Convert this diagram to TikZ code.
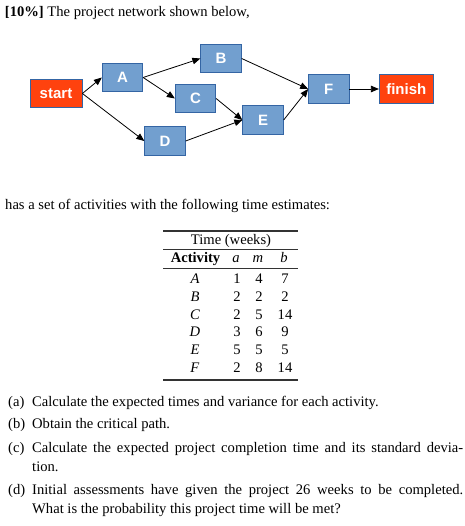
\documentclass[tikz,border=0pt]{standalone}
\usepackage{fontspec}
\setmainfont{Liberation Serif}
\newfontfamily\diafont{Liberation Sans}
\usetikzlibrary{arrows.meta}
\definecolor{boxblue}{HTML}{729FCF}
\definecolor{boxred}{HTML}{FF420E}
\definecolor{boxline}{HTML}{3465A4}
\begin{document}
\begin{tikzpicture}[x=1pt,y=-1pt,
  act/.style={draw=boxline, line width=0.8pt, fill=boxblue, minimum width=40.5pt,
    minimum height=28.5pt, inner sep=0pt, text=white,
    font=\diafont\bfseries\fontsize{15}{16}\selectfont},
  term/.style={act, fill=boxred},
  link/.style={-{Triangle[length=8pt,width=6.5pt]}, line width=0.8pt},
  txt/.style={anchor=base west, inner sep=0pt, font=\fontsize{14.6}{18}\selectfont},
  cell/.style={anchor=base, inner sep=0pt, font=\fontsize{14.6}{18}\selectfont},
  heavyrule/.style={line width=1.2pt, draw=black!80},
  lightrule/.style={line width=0.8pt, draw=black!80}]
\useasboundingbox (0,0) rectangle (464,526);

% heading text
\node[txt] (title) at (4.7,16.7) {\textbf{[10\%]} The project network shown below,};

% network
\node[term, minimum width=52pt] (start) at (56,93.5) {start};
\node[act] (A) at (122.5,77.5) {A};
\node[act] (B) at (221,58.5) {B};
\node[act] (C) at (195.5,98.5) {C};
\node[act] (D) at (165,141) {D};
\node[act] (E) at (263,120) {E};
\node[act] (F) at (328.8,89) {F};
\node[term, minimum width=54pt] (finish) at (406.3,89) {finish};

\draw[link] (start.east) -- (A.west);
\draw[link] (start.east) -- (D.west);
\draw[link] (A.east) -- (B.west);
\draw[link] (A.east) -- (C.west);
\draw[link] (B.east) -- (F.west);
\draw[link] (C.east) -- (E.west);
\draw[link] (D.east) -- (E.west);
\draw[link] (E.east) -- (F.west);
\draw[link] (F.east) -- (finish.west);

\node[txt] (intro) at (5,210) {has a set of activities with the following time estimates:};

% table
\draw[heavyrule] (163,231) -- (298,231);
\node[cell] (th) at (231,244.3) {Time (weeks)};
\draw[lightrule] (163,249.3) -- (298,249.3);
\node[cell] (hact) at (195.5,262.5) {\textbf{Activity}};
\node[cell] (ha) at (236,262.5) {\textit{a}};
\node[cell] (hm) at (258,262.5) {\textit{m}};
\node[cell] (hb) at (284,262.5) {\textit{b}};
\draw[lightrule] (163,268.7) -- (298,268.7);

\node[cell] (rA) at (195,283.5) {\textit{A}};
\node[cell] at (237,283.5) {1};
\node[cell] at (259,283.5) {4};
\node[cell] at (285,283.5) {7};

\node[cell] (rB) at (195,301.25) {\textit{B}};
\node[cell] at (237,301.25) {2};
\node[cell] at (259,301.25) {2};
\node[cell] at (285,301.25) {2};

\node[cell] (rC) at (195,319) {\textit{C}};
\node[cell] at (237,319) {2};
\node[cell] at (259,319) {5};
\node[cell] at (285,319) {14};

\node[cell] (rD) at (195,336.75) {\textit{D}};
\node[cell] at (237,336.75) {3};
\node[cell] at (259,336.75) {6};
\node[cell] at (285,336.75) {9};

\node[cell] (rE) at (195,354.5) {\textit{E}};
\node[cell] at (237,354.5) {5};
\node[cell] at (259,354.5) {5};
\node[cell] at (285,354.5) {5};

\node[cell] (rF) at (195,372.25) {\textit{F}};
\node[cell] at (237,372.25) {2};
\node[cell] at (259,372.25) {8};
\node[cell] at (285,372.25) {14};
\draw[heavyrule] (163,380) -- (298,380);

% questions
\node[txt] (la) at (8,406.7) {(a)};
\node[txt] (ta) at (32,406.7) {Calculate the expected times and variance for each activity.};
\node[txt] (lb) at (8,428.3) {(b)};
\node[txt] (tb) at (32,428.3) {Obtain the critical path.};
\node[txt] (lc) at (8,452.7) {(c)};
\node[txt] (tc) at (32,452.7) {\makebox[431pt][s]{Calculate the expected project completion time and its standard devia-}};
\node[txt] (tc2) at (32,471.7) {tion.};
\node[txt] (ld) at (8,494) {(d)};
\node[txt] (td) at (32,494) {\makebox[431pt][s]{Initial assessments have given the project 26 weeks to be completed.}};
\node[txt] (td2) at (32,513.3) {What is the probability this project time will be met?};
\end{tikzpicture}
\end{document}
